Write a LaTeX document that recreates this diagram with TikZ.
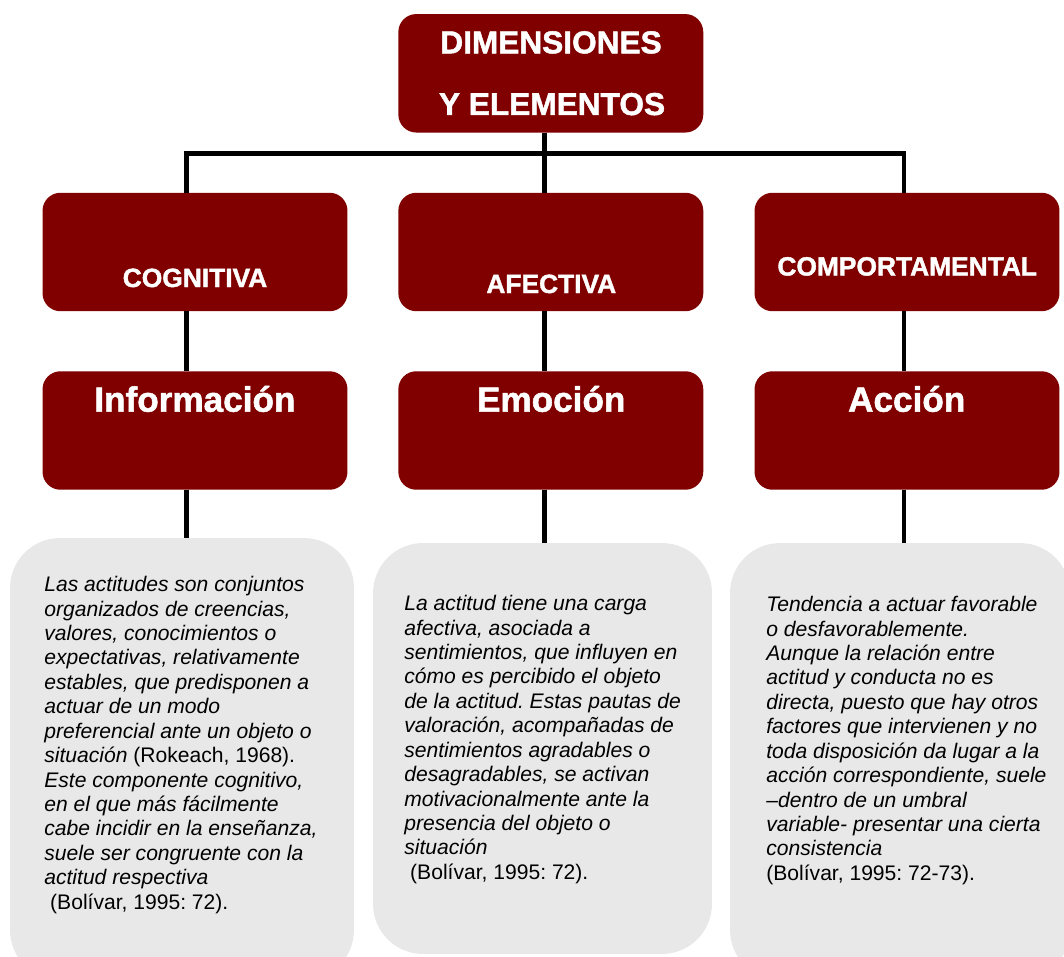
\documentclass[tikz,border=0pt]{standalone}
\usepackage{fontspec}
\setmainfont{Liberation Sans}
\newfontfamily\gruesa{Liberation Sans Bold}[FakeBold=1.5]
\frenchspacing
\definecolor{granate}{HTML}{800000}
\definecolor{grisclaro}{HTML}{E8E8E8}

\begin{document}
\begin{tikzpicture}[x=0.02cm,y=-0.02cm,
  caja/.style={fill=granate,rounded corners=0.36cm,minimum width=6.1cm,minimum height=2.37cm,inner sep=0pt,outer sep=0pt},
  nota/.style={fill=grisclaro,rounded corners=1cm,inner sep=0pt,outer sep=0pt},
  linea/.style={line width=2.8pt},
  titulo/.style={text=white,font=\fontsize{18}{20}\selectfont\gruesa,anchor=base,inner sep=0pt},
  dimension/.style={text=white,font=\fontsize{15}{17}\selectfont\gruesa,anchor=base,inner sep=0pt},
  elemento/.style={text=white,font=\fontsize{20}{22}\selectfont\gruesa,anchor=base,inner sep=0pt},
  texto/.style={font=\fontsize{12}{13.9}\selectfont\itshape,align=left,anchor=north west,inner sep=0pt}]

\useasboundingbox (0,0) rectangle (1064,956);
\clip (0,0) rectangle (1064,956);

\coordinate (barA) at (186.5,153.3);
\coordinate (barB) at (544.5,153.3);
\coordinate (barC) at (904,153.3);

% cajas
\node[caja] (dim) at (550.8,73.3) {};
\node[caja] (cog) at (195,252) {};
\node[caja] (afe) at (550.8,252) {};
\node[caja] (comp) at (907,252) {};
\node[caja] (inf) at (195,430.5) {};
\node[caja] (emo) at (550.8,430.5) {};
\node[caja] (acc) at (907,430.5) {};

\node[nota,minimum width=6.88cm,minimum height=8.84cm] (notaA) at (182,759) {};
\node[nota,minimum width=6.78cm,minimum height=8.22cm] (notaB) at (542.5,748.5) {};
\node[nota,minimum width=6.8cm,minimum height=8.74cm] (notaC) at (900,761.5) {};

% conectores
\draw[linea] (barA |- cog.north) -- (barA) -- (barC) -- (barC |- comp.north);
\draw[linea] (barB |- dim.south) -- (barB |- afe.north);
\draw[linea] (barA |- cog.south) -- (barA |- inf.north);
\draw[linea] (barB |- afe.south) -- (barB |- emo.north);
\draw[linea] (barC |- comp.south) -- (barC |- acc.north);
\draw[linea] (barA |- inf.south) -- (barA |- notaA.north);
\draw[linea] (barB |- emo.south) -- (barB |- notaB.north);
\draw[linea] (barC |- acc.south) -- (barC |- notaC.north);

% rotulos
\node[titulo] (dimA) at (551,53.3) {DIMENSIONES};
\node[titulo] (dimB) at (552,115) {Y ELEMENTOS};
\node[dimension] (cogtxt) at (195,287) {COGNITIVA};
\node[dimension] (afetxt) at (551.3,293) {AFECTIVA};
\node[dimension] (comptxt) at (907.2,275.5) {COMPORTAMENTAL};
\node[elemento] (inftxt) at (194.9,411.7) {Información};
\node[elemento] (emotxt) at (551.2,411.7) {Emoción};
\node[elemento] (acctxt) at (906.7,411.7) {Acción};

\node[texto] (txtA) at (44,576) {Las actitudes son conjuntos\\
organizados de creencias,\\
valores, conocimientos o\\
expectativas, relativamente\\
estables, que predisponen a\\
actuar de un modo\\
preferencial ante un objeto o\\
situación {\upshape (Rokeach, 1968).}\\
Este componente cognitivo,\\
en el que más fácilmente\\
cabe incidir en la enseñanza,\\
suele ser congruente con la\\
actitud respectiva\\
{\upshape\ (Bolívar, 1995: 72).}};

\node[texto] (txtB) at (404,595) {La actitud tiene una carga\\
afectiva, asociada a\\
sentimientos, que influyen en\\
cómo es percibido el objeto\\
de la actitud. Estas pautas de\\
valoración, acompañadas de\\
sentimientos agradables o\\
desagradables, se activan\\
motivacionalmente ante la\\
presencia del objeto o\\
situación\\
{\upshape\ (Bolívar, 1995: 72).}};

\node[texto] (txtC) at (766,596) {Tendencia a actuar favorable\\
o desfavorablemente.\\
Aunque la relación entre\\
actitud y conducta no es\\
directa, puesto que hay otros\\
factores que intervienen y no\\
toda disposición da lugar a la\\
acción correspondiente, suele\\
–dentro de un umbral\\
variable- presentar una cierta\\
consistencia\\
{\upshape (Bolívar, 1995: 72-73).}};

\end{tikzpicture}
\end{document}
